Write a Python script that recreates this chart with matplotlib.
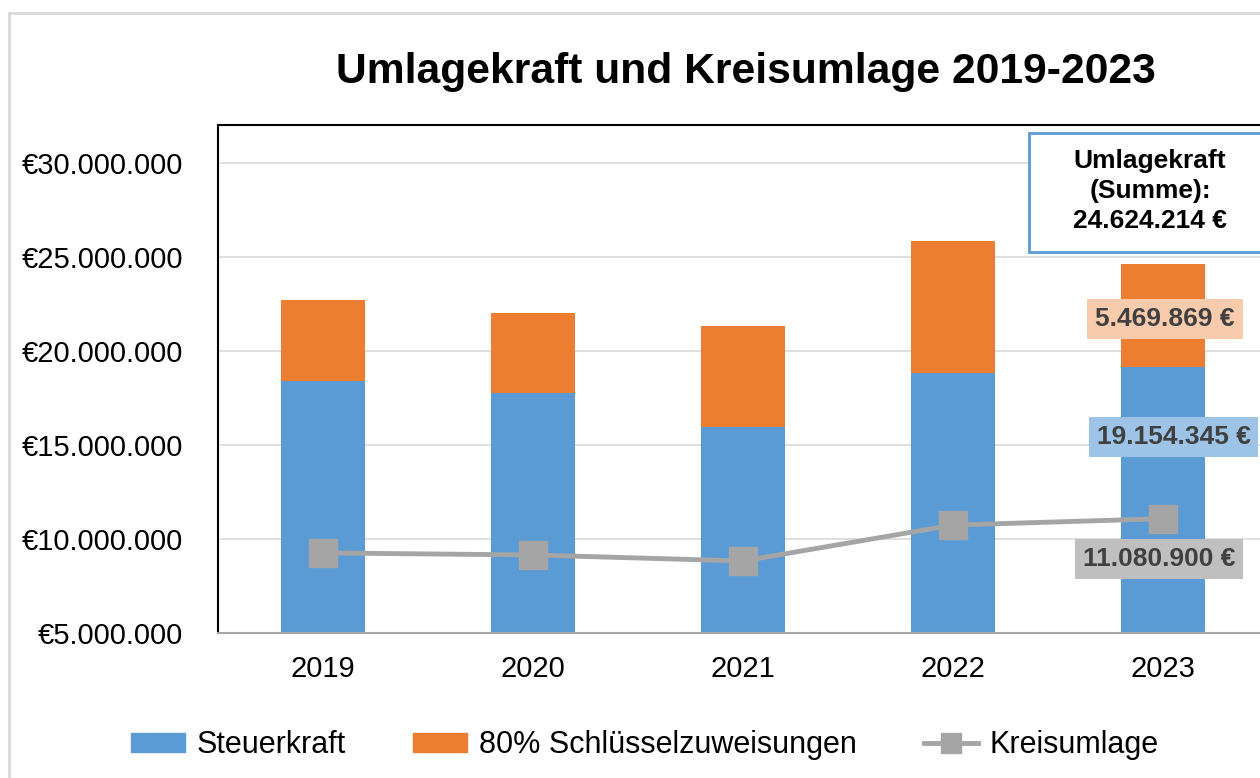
import matplotlib.pyplot as plt
from matplotlib.patches import Rectangle, Patch
from matplotlib.lines import Line2D
from matplotlib.ticker import FuncFormatter

plt.rcParams['font.family'] = ['Liberation Sans', 'DejaVu Sans']

years = ['2019', '2020', '2021', '2022', '2023']
steuerkraft = [18400000, 17770000, 15960000, 18830000, 19154345]
schluessel = [4300000, 4250000, 5370000, 7020000, 5469869]
kreisumlage = [9260000, 9150000, 8830000, 10740000, 11080900]
umlagekraft_2023 = 24624214

BLUE = '#5B9BD5'
ORANGE = '#ED7D31'
GRAY = '#A5A5A5'


def euro(v):
    return f"{v:,.0f}".replace(',', '.')


fig = plt.figure(figsize=(12.6, 7.78), dpi=100)
ax = fig.add_axes([218 / 1260, 1 - 633 / 778, 1050 / 1260, 508 / 778])

x = list(range(len(years)))
ax.bar(x, steuerkraft, width=0.4, color=BLUE, zorder=2)
ax.bar(x, schluessel, width=0.4, bottom=steuerkraft, color=ORANGE, zorder=2)
ax.plot(x, kreisumlage, color=GRAY, linewidth=3.5, marker='s', markersize=20, zorder=3)

ax.set_xlim(-0.5, 4.5)
ax.set_ylim(5000000, 32020000)
ax.set_yticks(range(5000000, 30000001, 5000000))
ax.yaxis.set_major_formatter(FuncFormatter(lambda v, p: '€' + euro(v)))
ax.set_xticks(x)
ax.set_xticklabels(years)
ax.tick_params(axis='both', length=0, labelsize=21)
ax.tick_params(axis='y', pad=25)
ax.tick_params(axis='x', pad=16)
ax.grid(axis='y', color='#D9D9D9', linewidth=1.2, zorder=0)
ax.set_axisbelow(True)
for side in ['left', 'top']:
    ax.spines[side].set_color('black')
    ax.spines[side].set_linewidth(1.5)
ax.spines['bottom'].set_color('#A6A6A6')
ax.spines['bottom'].set_linewidth(1.5)
ax.spines['right'].set_visible(False)

# data labels for 2023
last = len(years) - 1
lab = dict(ha='center', va='center', fontsize=19, fontweight='bold', color='#404040', zorder=5)
ax.text(last + 0.01, steuerkraft[last] + schluessel[last] / 2 - 200000,
        euro(schluessel[last]) + ' €',
        bbox=dict(boxstyle='square,pad=0.3', fc='#F8CBAD', ec='none'), **lab)
ax.text(last + 0.05, steuerkraft[last] - 3740000, euro(steuerkraft[last]) + ' €',
        bbox=dict(boxstyle='square,pad=0.3', fc='#9DC3E6', ec='none'), **lab)
ax.text(last - 0.02, kreisumlage[last] - 2130000, euro(kreisumlage[last]) + ' €',
        bbox=dict(boxstyle='square,pad=0.3', fc='#BFBFBF', ec='none'), **lab)

# summary box
ax.add_patch(Rectangle((811 / 1050, (633 - 252) / 508), 0.3, 119 / 508,
                       transform=ax.transAxes, fc='white', ec=BLUE, lw=2,
                       clip_on=False, zorder=6))
ax.text(932 / 1050, (633 - 191) / 508,
        'Umlagekraft\n(Summe):\n' + euro(umlagekraft_2023) + ' €',
        transform=ax.transAxes, ha='center', va='center', fontsize=19,
        fontweight='bold', color='black', linespacing=1.3, zorder=7)

fig.suptitle('Umlagekraft und Kreisumlage 2019-2023', x=746 / 1260, y=1 - 72 / 778,
             fontsize=30.7, fontweight='bold', va='center')

handles = [
    Patch(color=BLUE, label='Steuerkraft'),
    Patch(color=ORANGE, label='80% Schlüsselzuweisungen'),
    Line2D([], [], color=GRAY, linewidth=3.5, marker='s', markersize=15,
           label='Kreisumlage'),
]
fig.legend(handles=handles, loc='center', bbox_to_anchor=(645 / 1260, 1 - 745 / 778),
           ncol=3, frameon=False, fontsize=22, handlelength=1.75, handleheight=0.56,
           columnspacing=2.2, handletextpad=0.4)

fig.patches.append(Rectangle((9 / 1260, -0.05), 1.1, 1 - 13 / 778 + 0.05,
                             transform=fig.transFigure, fill=False,
                             edgecolor='#D9D9D9', linewidth=2))

fig.savefig('out.png', dpi=100)
